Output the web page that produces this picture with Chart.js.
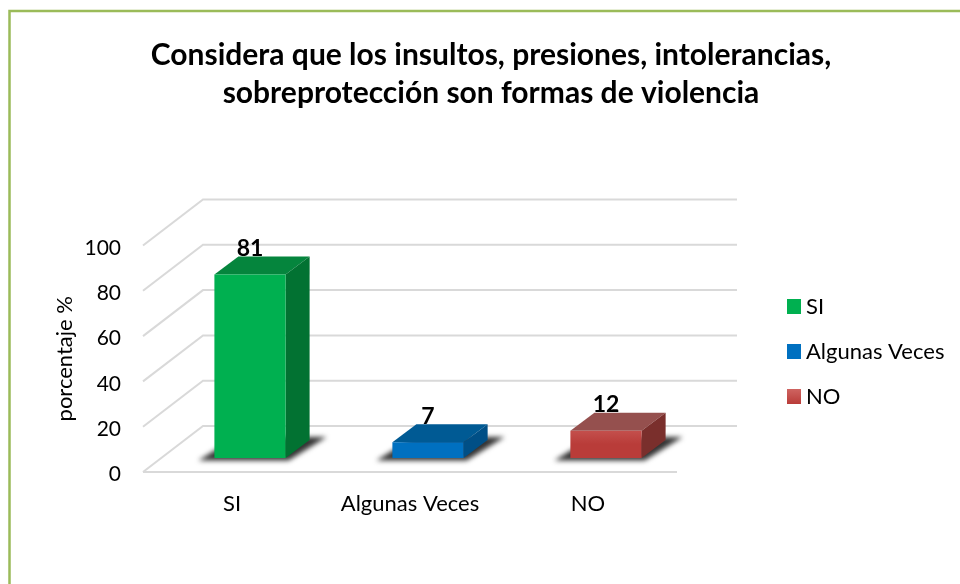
<!doctype html>
<html>

<head>
	<meta charset="utf-8">
	<title>Formas de violencia</title>
	<script src="https://cdn.jsdelivr.net/npm/chart.js@4"></script>
	<style>
		body {
			margin: 0;
			background: #fff;
		}
		canvas {
			display: block;
		}
	</style>
</head>

<body>
	<canvas id="canvas" width="960" height="584"></canvas>
	<script>
		const categories = ['SI', 'Algunas Veces', 'NO'];
		const values = [81, 7, 12];
		const titleLines = ['Considera que los insultos, presiones, intolerancias,', 'sobreprotección son formas de violencia'];
		const axisTitle = 'porcentaje %';

		const frontColors = ['#00B050', '#0070C0', '#C0504D'];
		const topColors = ['#05853D', '#005A94', '#95504E'];
		const sideColors = ['#027232', '#004F86', '#7A2F2C'];

		const fontName = 'Lato, sans-serif';
		const wall = { dx: 60, dy: -46 };
		const barShift = { dx: 18, dy: -14 };
		const barDepth = { dx: 24, dy: -18 };

		const poly = function(ctx, pts, fill) {
			ctx.beginPath();
			pts.forEach((p, i) => (i ? ctx.lineTo(p[0], p[1]) : ctx.moveTo(p[0], p[1])));
			ctx.closePath();
			ctx.fillStyle = fill;
			ctx.fill();
		};

		const redGradient = function(ctx, y0, y1) {
			const g = ctx.createLinearGradient(0, y0, 0, y1);
			g.addColorStop(0, '#CF6461');
			g.addColorStop(1, '#B93C39');
			return g;
		};

		const fakeThreeD = {
			id: 'fakeThreeD',
			beforeInit(chart) {
				// legend only reserves the room, it is moved in afterLayout
				const fit = chart.legend.fit;
				chart.legend.fit = function() {
					fit.call(this);
					this.width = 283;
				};
			},
			afterLayout(chart) {
				chart.legend.left = 793 - 23;
				chart.legend.top = 272.5;
			},
			beforeDraw(chart) {
				const ctx = chart.ctx;
				ctx.save();
				ctx.fillStyle = '#fff';
				ctx.fillRect(0, 0, chart.width, chart.height);
				ctx.strokeStyle = '#9BBB59';
				ctx.lineWidth = 2.5;
				ctx.strokeRect(9.5, 11, chart.width + 20, chart.height + 20);
				ctx.restore();
			},
			beforeDatasetsDraw(chart) {
				const { ctx, chartArea, scales } = chart;
				const left = chartArea.left;
				const right = chartArea.right;
				ctx.save();
				ctx.strokeStyle = '#D9D9D9';
				ctx.lineWidth = 2;
				ctx.beginPath();
				scales.y.ticks.forEach((tick) => {
					const y = scales.y.getPixelForValue(tick.value);
					ctx.moveTo(left, y);
					ctx.lineTo(left + wall.dx, y + wall.dy);
					ctx.lineTo(right + wall.dx, y + wall.dy);
				});
				ctx.moveTo(left, chartArea.bottom);
				ctx.lineTo(right, chartArea.bottom);
				ctx.stroke();
				ctx.restore();

				// shadows and the back faces of the bars
				const bars = chart.getDatasetMeta(0).data;
				ctx.save();
				ctx.translate(barShift.dx, barShift.dy);
				bars.forEach((bar) => {
					const x0 = bar.x - bar.width / 2;
					const x1 = bar.x + bar.width / 2;
					ctx.save();
					ctx.filter = 'blur(2.5px)';
					poly(ctx, [[x0 - 16, bar.base + 2.5], [x1 + 3, bar.base + 2.5], [x1 + 41, bar.base - 21], [x0 + 22, bar.base - 21]], '#333333');
					ctx.restore();
				});
				bars.forEach((bar, i) => {
					const x0 = bar.x - bar.width / 2;
					const x1 = bar.x + bar.width / 2;
					const d = barDepth;
					poly(ctx, [[x0, bar.y], [x1, bar.y], [x1 + d.dx, bar.y + d.dy], [x0 + d.dx, bar.y + d.dy]], topColors[i]);
					poly(ctx, [[x1, bar.y], [x1 + d.dx, bar.y + d.dy], [x1 + d.dx, bar.base + d.dy], [x1, bar.base]], sideColors[i]);
				});
				ctx.restore();
			},
			beforeDatasetDraw(chart) {
				chart.ctx.save();
				chart.ctx.translate(barShift.dx, barShift.dy);
			},
			afterDatasetDraw(chart) {
				chart.ctx.restore();
			},
			afterDatasetsDraw(chart) {
				const ctx = chart.ctx;
				ctx.save();
				ctx.fillStyle = '#000';
				ctx.font = 'bold 23px ' + fontName;
				ctx.textAlign = 'center';
				ctx.textBaseline = 'middle';
				chart.getDatasetMeta(0).data.forEach((bar, i) => {
					ctx.fillText(values[i], bar.x + barShift.dx, bar.y + barShift.dy - 26);
				});
				ctx.restore();
			}
		};

		window.onload = function() {
			const ctx = document.getElementById('canvas').getContext('2d');
			window.myBar = new Chart(ctx, {
				type: 'bar',
				data: {
					labels: categories,
					datasets: [{
						data: values,
						barPercentage: 0.4,
						categoryPercentage: 1,
						backgroundColor(context) {
							if (context.dataIndex !== 2) {
								return frontColors[context.dataIndex];
							}
							const y = context.chart.scales.y;
							return redGradient(context.chart.ctx, y.getPixelForValue(12) - 14, y.getPixelForValue(0) - 14);
						}
					}]
				},
				plugins: [fakeThreeD],
				options: {
					responsive: false,
					animation: false,
					layout: {
						autoPadding: false,
						padding: { left: 22, right: 0, top: 0, bottom: 0 }
					},
					plugins: {
						tooltip: { enabled: false },
						title: {
							display: true,
							text: titleLines,
							color: '#000',
							font: { family: fontName, size: 30, weight: 'bold', lineHeight: 1.267 },
							padding: { top: 36, bottom: 133.5 }
						},
						legend: {
							position: 'right',
							align: 'start',
							labels: {
								color: '#000',
								font: { family: fontName, size: 22 },
								padding: 23,
								// thin box + thick border, keeps the text close to the swatch
								boxWidth: 2,
								boxHeight: 3,
								generateLabels(chart) {
									return categories.map((name, i) => {
										const fill = i === 2 ? redGradient(chart.ctx, 389, 404) : frontColors[i];
										return { text: name, fillStyle: fill, strokeStyle: fill, lineWidth: 12, index: i };
									});
								}
							}
						}
					},
					scales: {
						x: {
							grid: { display: false, drawTicks: false },
							border: { display: false },
							afterFit(scale) {
								scale.height = 112;
							},
							ticks: {
								color: '#000',
								padding: 19,
								maxRotation: 0,
								font: { family: fontName, size: 22 }
							}
						},
						y: {
							min: 0,
							max: 100,
							grid: { display: false, drawTicks: false },
							border: { display: false },
							afterFit(scale) {
								scale.width = 121;
							},
							title: {
								display: true,
								text: axisTitle,
								color: '#000',
								padding: { top: 30, bottom: 0 },
								font: { family: fontName, size: 22 }
							},
							ticks: {
								stepSize: 20,
								color: '#000',
								padding: 22,
								labelOffset: 2.5,
								font: { family: fontName, size: 21 }
							}
						}
					}
				}
			});
		};
	</script>
</body>

</html>
